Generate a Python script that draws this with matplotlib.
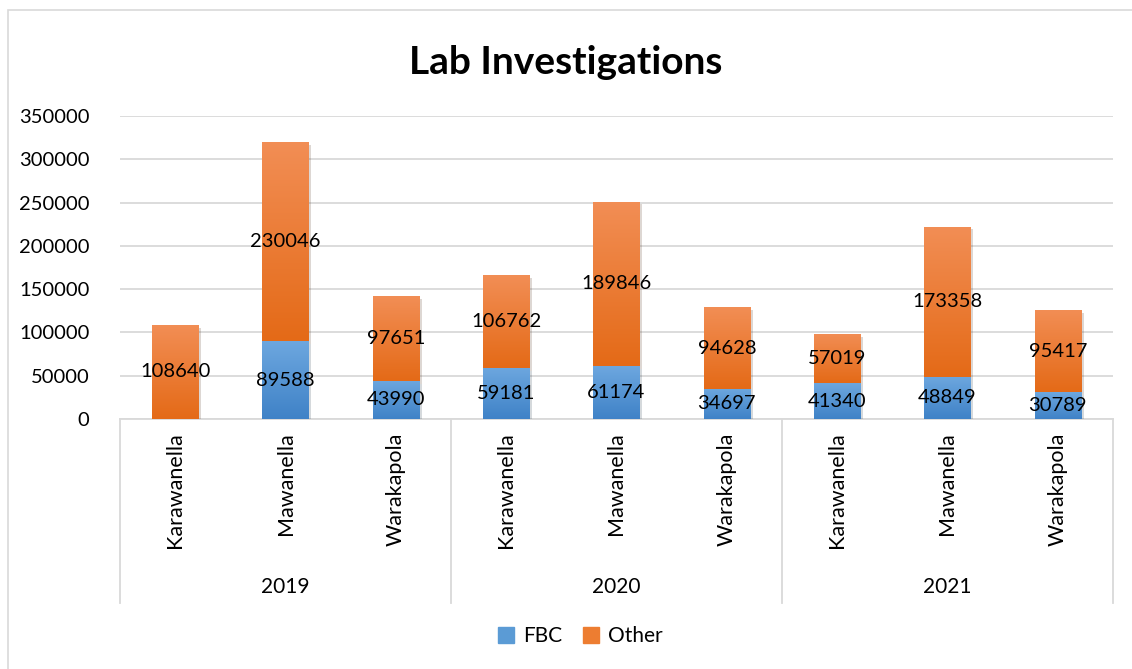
import numpy as np
import matplotlib.pyplot as plt
import matplotlib.transforms as mtransforms
from matplotlib.patches import Rectangle
from matplotlib.colors import LinearSegmentedColormap
import matplotlib.patheffects as pe

plt.rcParams['font.family'] = ['Lato', 'DejaVu Sans']

years = ["2019", "2020", "2021"]
places = ["Karawanella", "Mawanella", "Warakapola"]
fbc = [0, 89588, 43990, 59181, 61174, 34697, 41340, 48849, 30789]
other = [108640, 230046, 97651, 106762, 189846, 94628, 57019, 173358, 95417]
yticks = [0, 50000, 100000, 150000, 200000, 250000, 300000, 350000]

blue_grad = LinearSegmentedColormap.from_list("b", ["#3F82C7", "#6DA7DF"])
orange_grad = LinearSegmentedColormap.from_list("o", ["#E46A17", "#F28E55"])

fig = plt.figure(figsize=(11.32, 6.69), dpi=100)
ax = fig.add_axes([120 / 1132, 1 - 419 / 669, (1113 - 120) / 1132, 303 / 669])

# outer chart border
fig.patches.append(Rectangle((8 / 1132, -0.01), 1.02, 1 - 10 / 669 + 0.01,
                             transform=fig.transFigure, fill=False,
                             edgecolor="#D9D9D9", linewidth=1.2))

x = np.arange(len(fbc))
shadow = [pe.SimplePatchShadow(offset=(2, -2), alpha=0.18), pe.Normal()]
b1 = ax.bar(x, fbc, width=0.42, color="#5B9BD5", zorder=3, path_effects=shadow)
b2 = ax.bar(x, other, width=0.42, bottom=fbc, color="#ED7D31", zorder=3, path_effects=shadow)

# gradient fill, lighter at top of each segment
grad = np.linspace(0, 1, 256).reshape(-1, 1)
for bars, cmap in ((b1, blue_grad), (b2, orange_grad)):
    for p in bars:
        if p.get_height() <= 0:
            continue
        x0, y0 = p.get_x(), p.get_y()
        im = ax.imshow(grad, cmap=cmap, aspect="auto", origin="lower",
                       extent=[x0, x0 + p.get_width(), y0, y0 + p.get_height()],
                       zorder=4)
        im.set_clip_path(p)

for i in range(len(fbc)):
    if fbc[i] > 0:
        ax.text(x[i], fbc[i] / 2, str(fbc[i]), ha="center", va="center",
                fontsize=14.5, color="black", zorder=6)
    ax.text(x[i], fbc[i] + other[i] / 2, str(other[i]), ha="center", va="center",
            fontsize=14.5, color="black", zorder=6)

ax.set_xlim(-0.5, 8.5)
ax.set_ylim(0, 350000)
ax.set_yticks(yticks)
ax.set_yticklabels([str(v) for v in yticks], fontsize=14.5)
ax.tick_params(axis="y", length=0, pad=22)
ax.set_xticks([])
ax.grid(axis="y", color="#D9D9D9", linewidth=1.3, zorder=0)
for s in ax.spines.values():
    s.set_visible(False)
ax.axhline(0, color="#D9D9D9", linewidth=1.3, zorder=2, clip_on=False)

# multi-level category axis
tr = mtransforms.blended_transform_factory(ax.transData, ax.transAxes)
for i in range(len(fbc)):
    ax.text(x[i], -0.045, places[i % 3], transform=tr, rotation=90,
            ha="center", va="top", fontsize=15.5)
for g in range(len(years)):
    ax.text(3 * g + 1, -0.555, years[g], transform=tr, ha="center", va="center",
            fontsize=15)
for b in (-0.5, 2.5, 5.5, 8.5):
    ax.plot([b, b], [0, -0.607], transform=tr, color="#D9D9D9", linewidth=1.3,
            clip_on=False)

fig.text(0.5, 1 - 62 / 669, "Lab Investigations", ha="center", va="center",
         fontsize=28, fontweight="bold")

handles = [Rectangle((0, 0), 1, 1, color="#5B9BD5"), Rectangle((0, 0), 1, 1, color="#ED7D31")]
fig.legend(handles, ["FBC", "Other"], loc="center", bbox_to_anchor=(580 / 1132, 1 - 636 / 669),
           ncol=2, frameon=False, fontsize=15, handlelength=0.8, handleheight=0.8,
           handletextpad=0.4, columnspacing=1.0)

fig.savefig("out.png", dpi=100)
